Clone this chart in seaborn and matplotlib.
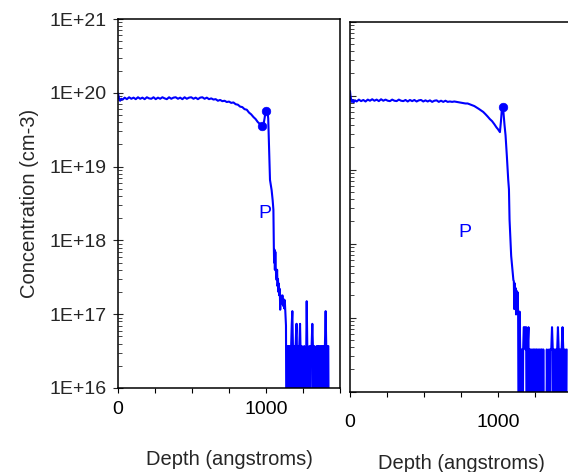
import matplotlib
matplotlib.use('Agg')
import matplotlib.pyplot as plt
import matplotlib.ticker as mticker
import seaborn as sns
import pandas as pd
import numpy as np

# value used for "zero counts" (falls below the log axis and gets clipped)
Z = 1e14
F = 3.7e16   # one-count floor
D = 7.4e16   # two-count level

left_depth = [0, 4, 8, 14, 22, 32, 45, 60, 75, 90, 105, 120, 135, 150, 165, 180, 195, 210, 225, 240,
              255, 270, 285, 300, 315, 330, 345, 360, 375, 390, 405, 420, 435, 450, 465, 480, 495, 510,
              525, 540, 555, 570, 585, 600, 615, 630, 645, 660, 675, 690, 705, 720, 735, 750, 765, 780,
              795, 810, 825, 840, 855, 870, 885, 900, 915, 930, 945, 958, 966, 972, 978, 985, 991, 997,
              1003, 1009, 1015, 1020, 1027, 1038, 1045, 1050, 1053, 1055, 1057, 1060, 1063, 1066, 1069,
              1072, 1075, 1078, 1081, 1084, 1087, 1090, 1093, 1096, 1099, 1103, 1107, 1111, 1115, 1119,
              1123, 1127, 1131, 1135, 1140, 1145, 1150, 1155, 1160, 1165, 1170, 1174, 1178, 1182, 1186,
              1190, 1195, 1200, 1205, 1208, 1212, 1216, 1220, 1225, 1230, 1233, 1237, 1242, 1247, 1252,
              1258, 1263, 1268, 1272, 1275, 1279, 1283, 1288, 1293, 1298, 1304, 1308, 1313, 1317, 1321,
              1326, 1331, 1336, 1342, 1347, 1352, 1356, 1362, 1367, 1372, 1377, 1382, 1387, 1392, 1398,
              1403, 1407, 1412, 1417, 1421, 1426]
left_conc = [9.8e19, 9.0e19, 8.2e19, 7.8e19, 8.3e19, 8.1e19, 8.6e19, 8.2e19, 8.7e19, 8.3e19, 8.6e19,
             8.2e19, 8.7e19, 8.3e19, 8.6e19, 8.2e19, 8.7e19, 8.4e19, 8.3e19, 8.7e19, 8.2e19, 8.6e19,
             8.3e19, 8.7e19, 8.4e19, 8.2e19, 8.7e19, 8.3e19, 8.6e19, 8.7e19, 8.3e19, 8.6e19, 8.2e19,
             8.7e19, 8.3e19, 8.6e19, 8.7e19, 8.3e19, 8.6e19, 8.2e19, 8.6e19, 8.7e19, 8.3e19, 8.6e19,
             8.2e19, 8.4e19, 8.1e19, 8.2e19, 7.8e19, 8.0e19, 7.7e19, 7.8e19, 7.5e19, 7.6e19, 7.3e19,
             7.4e19, 7.0e19, 6.9e19, 6.5e19, 6.4e19, 6.0e19, 5.9e19, 5.4e19, 5.1e19, 4.7e19, 4.4e19,
             4.0e19, 3.8e19, 3.5e19, 3.3e19, 3.6e19, 3.9e19, 4.6e19, 5.6e19, 6.1e19, 5.8e19, 4.5e19,
             2.0e19, 6.6e18, 4.8e18, 3.5e18, 2.6e18, 8.0e17, 5.0e17, 7.5e17, 4.0e17, 7.0e17, 4.2e17,
             3.2e17, 2.9e17, 4.0e17, 2.4e17, 3.0e17, 2.0e17, 2.6e17, 1.8e17, 2.2e17, 1.15e17, 1.8e17,
             1.7e17, 1.4e17, 1.8e17, 1.3e17, 1.6e17, 1.2e17, 1.55e17, 1.0e17, 7.0e16, Z, F, Z, F, F, Z,
             F, D, 1.1e17, F, Z, F, Z, F, D, D, Z, F, Z, F, D, F, Z, F, Z, Z, F, Z, Z, F, 1.5e17, F, Z,
             Z, F, Z, F, F, D, F, Z, F, Z, Z, F, Z, F, Z, F, F, Z, F, Z, F, Z, F, 1.1e17, F, Z, F, F, Z]

right_depth = [0, 3, 7, 12, 18, 25, 35, 45, 60, 75, 90, 105, 120, 135, 150, 165, 180, 195, 210, 225,
               240, 255, 270, 285, 300, 315, 330, 345, 360, 375, 390, 405, 420, 435, 450, 465, 480, 495,
               510, 525, 540, 555, 570, 585, 600, 615, 630, 645, 660, 675, 690, 705, 720, 735, 750, 765,
               780, 795, 810, 825, 840, 855, 870, 885, 900, 915, 930, 945, 960, 975, 990, 1000, 1008,
               1013, 1020, 1026, 1031, 1036, 1044, 1051, 1060, 1069, 1074, 1078, 1084, 1089, 1095, 1100,
               1104, 1107, 1110, 1113, 1116, 1119, 1122, 1125, 1128, 1132, 1136, 1141, 1146, 1150, 1155,
               1160, 1165, 1170, 1174, 1180, 1186, 1190, 1196, 1200, 1206, 1210, 1215, 1220, 1225, 1230,
               1235, 1240, 1246, 1251, 1256, 1261, 1266, 1271, 1276, 1281, 1286, 1291, 1296, 1301, 1306,
               1312, 1318, 1324, 1330, 1340, 1345, 1350, 1355, 1360, 1365, 1370, 1375, 1380, 1385, 1390,
               1395, 1400, 1405, 1410, 1415, 1420, 1425, 1430, 1436, 1441, 1446, 1452, 1458, 1464]
right_conc = [1.15e20, 1.0e20, 9.0e19, 8.2e19, 8.7e19, 8.1e19, 8.6e19, 8.3e19, 8.8e19, 8.4e19, 8.7e19,
              8.3e19, 8.8e19, 8.5e19, 8.9e19, 8.5e19, 8.8e19, 8.4e19, 8.9e19, 8.5e19, 8.8e19, 8.5e19,
              8.4e19, 8.8e19, 8.5e19, 8.4e19, 8.8e19, 8.5e19, 8.4e19, 8.7e19, 8.3e19, 8.7e19, 8.4e19,
              8.7e19, 8.3e19, 8.6e19, 8.7e19, 8.3e19, 8.6e19, 8.3e19, 8.6e19, 8.2e19, 8.5e19, 8.6e19,
              8.2e19, 8.5e19, 8.2e19, 8.5e19, 8.2e19, 8.3e19, 8.2e19, 8.3e19, 8.2e19, 8.1e19, 8.0e19,
              7.9e19, 7.8e19, 7.8e19, 7.6e19, 7.4e19, 7.2e19, 6.9e19, 6.6e19, 6.3e19, 6.0e19, 5.6e19,
              5.2e19, 4.8e19, 4.5e19, 4.1e19, 3.7e19, 3.5e19, 3.3e19, 3.2e19, 4.5e19, 6.5e19, 7.1e19,
              6.2e19, 4.0e19, 2.9e19, 1.5e19, 7.3e18, 5.4e18, 2.1e18, 1.1e18, 6.8e17, 5.0e17, 4.0e17,
              3.2e17, 3.1e17, 1.3e17, 2.9e17, 1.8e17, 2.5e17, 1.1e17, 2.3e17, 1.2e17, 2.2e17, 1.15e17, Z,
              1.2e17, F, Z, F, Z, F, D, D, F, D, Z, F, D, Z, F, F, Z, F, Z, F, F, Z, F, F, Z, F, Z, F, Z,
              F, F, Z, F, Z, Z, Z, F, Z, F, Z, F, F, D, F, Z, F, Z, F, Z, F, D, F, Z, F, Z, F, D, F, Z,
              F, Z, F]

left_mark_depth = [972, 997]
left_mark_conc = [3.5e19, 5.6e19]
right_mark_depth = [1031]
right_mark_conc = [7.1e19]

x_label = 'Depth (angstroms)'
y_label = 'Concentration (cm-3)'
BLUE = '#0000ff'


def decade_label(v, pos):
    return '1E+%d' % int(round(np.log10(v)))


def style_axis(ax, left_panel):
    ax.set_yscale('log')
    ax.set_ylim(1e16, 1e21)
    ax.set_xlim(0, 1500)
    ax.set_xticks([0, 1000])
    ax.set_xticks([250, 500, 750, 1250, 1500], minor=True)
    ax.xaxis.set_major_formatter(mticker.FuncFormatter(lambda v, p: '%d' % v))
    ax.yaxis.set_major_locator(mticker.LogLocator(base=10, numticks=10))
    ax.yaxis.set_minor_locator(mticker.LogLocator(base=10, subs=np.arange(2, 10), numticks=10))
    ax.yaxis.set_minor_formatter(mticker.NullFormatter())
    ax.tick_params(axis='x', which='both', direction='out', length=3.5, width=0.8,
                   labelsize=14, pad=6 if left_panel else 13, colors='black')
    if left_panel:
        ax.yaxis.set_major_formatter(mticker.FuncFormatter(decade_label))
        ax.tick_params(axis='y', which='major', direction='inout', length=7, width=0.8,
                       labelsize=14, pad=5)
    else:
        ax.yaxis.set_major_formatter(mticker.NullFormatter())
        ax.tick_params(axis='y', which='major', direction='in', length=4, width=0.8)
    ax.tick_params(axis='y', which='minor', direction='in', length=3, width=0.6)
    for s in ax.spines.values():
        s.set_color('black')
        s.set_linewidth(1.1)
    ax.grid(False)
    ax.set_xlabel(x_label, fontsize=14.5)
    ax.xaxis.set_label_coords(0.5, -0.168)


def main():
    sns.set_style('ticks')
    plt.rcParams['font.family'] = ['Liberation Sans', 'DejaVu Sans']

    left = pd.DataFrame({'depth': left_depth, 'conc': left_conc})
    right = pd.DataFrame({'depth': right_depth, 'conc': right_conc})

    fig = plt.figure(figsize=(5.68, 4.72), dpi=100)
    ax1 = fig.add_axes([118 / 568, 1 - 388 / 472, 222 / 568, 369 / 472])
    ax2 = fig.add_axes([350 / 568, 1 - 391.5 / 472, 222 / 568, 370 / 472])

    sns.lineplot(data=left, x='depth', y='conc', ax=ax1, color=BLUE, lw=1.5,
                 sort=False, estimator=None)
    sns.scatterplot(x=left_mark_depth, y=left_mark_conc, ax=ax1, color=BLUE, s=38,
                    edgecolor=BLUE, zorder=3)
    sns.lineplot(data=right, x='depth', y='conc', ax=ax2, color=BLUE, lw=1.5,
                 sort=False, estimator=None)
    sns.scatterplot(x=right_mark_depth, y=right_mark_conc, ax=ax2, color=BLUE, s=38,
                    edgecolor=BLUE, zorder=3)

    style_axis(ax1, True)
    style_axis(ax2, False)
    ax1.set_ylabel(y_label, fontsize=14.5)
    ax1.yaxis.set_label_coords(-0.355, 0.5)
    ax2.set_ylabel('')

    ax1.text(993, 2.3e18, 'P', color=BLUE, fontsize=14, ha='center', va='center')
    ax2.text(778, 1.4e18, 'P', color=BLUE, fontsize=14, ha='center', va='center')

    fig.savefig('out.png', dpi=100)


if __name__ == '__main__':
    main()
